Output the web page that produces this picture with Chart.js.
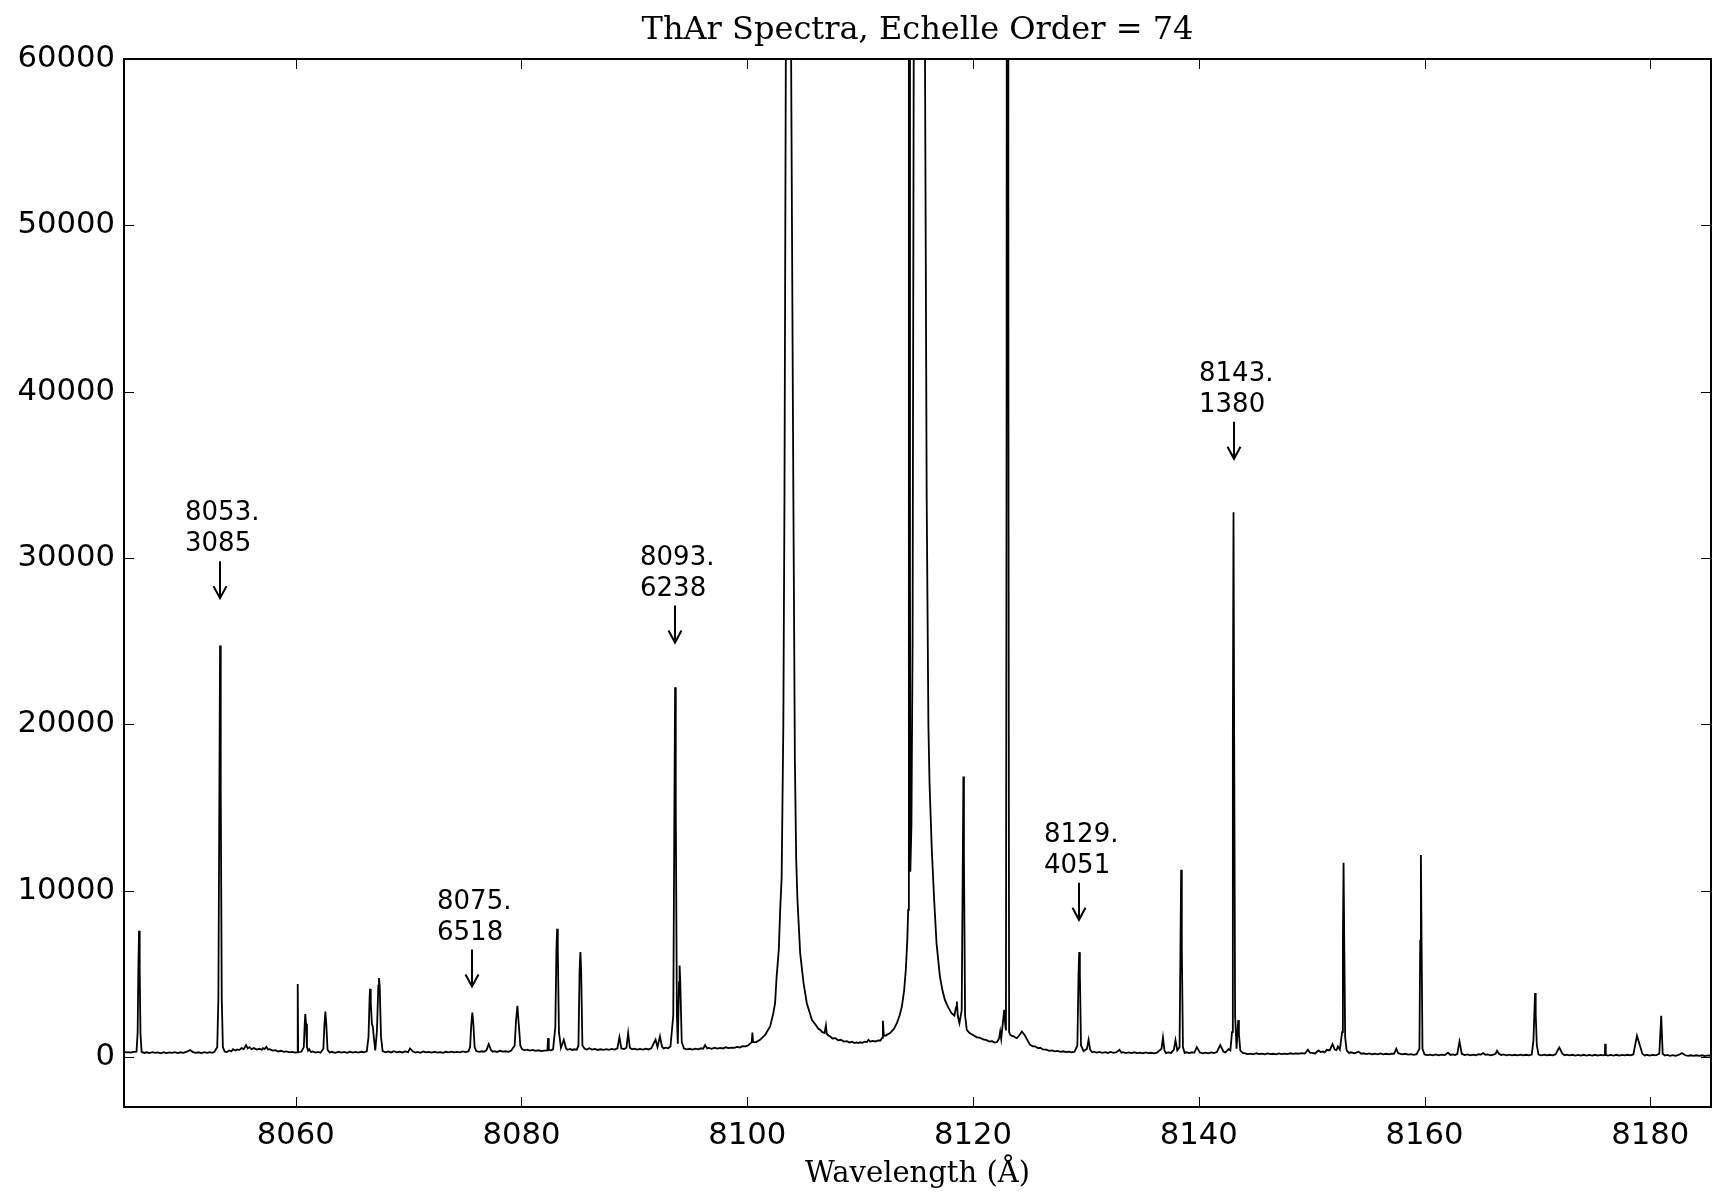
<!DOCTYPE html>
<html><head><meta charset="utf-8">
<script src="https://cdn.jsdelivr.net/npm/chart.js@4.4.0/dist/chart.umd.min.js"></script>
<style>html,body{margin:0;padding:0;background:#fff;} canvas{display:block;}</style>
</head><body>
<canvas id="c" width="1713" height="1196"></canvas>
<script>
const titleText = 'ThAr Spectra, Echelle Order = 74';
const xAxisLabel = 'Wavelength (Å)';
const xRange = [8044.79, 8185.38];
const yRange = [-3000, 60000];
const xTicks = [8060, 8080, 8100, 8120, 8140, 8160, 8180];
const yTicks = [0, 10000, 20000, 30000, 40000, 50000, 60000];

// spectrum: [wavelength (Å), counts]
const specBlue = [[8044.79,320],[8045.0,280],[8045.2,300],[8045.4,270],[8045.6,310],[8045.9,330],[8046.0,1500],[8046.06,5200],[8046.12,7600],[8046.18,5200],[8046.25,1400],[8046.35,320],[8046.6,250],[8046.8,290],[8047.05,240],[8047.3,300],[8047.55,250],[8047.8,280],[8048.05,230],[8048.3,290],[8048.55,240],[8048.8,280],[8049.05,250],[8049.3,300],[8049.55,240],[8049.8,290],[8050.05,260],[8050.3,310],[8050.64,420],[8050.9,300],[8051.15,250],[8051.4,290],[8051.65,240],[8051.9,300],[8052.15,260],[8052.4,300],[8052.6,260],[8052.8,320],[8053.05,600],[8053.15,3500],[8053.24,16000],[8053.3,24740],[8053.36,16000],[8053.45,3500],[8053.55,600],[8053.7,340],[8053.9,300],[8054.1,400],[8054.3,340],[8054.45,480],[8054.65,400],[8054.8,460],[8055.0,420],[8055.2,540],[8055.4,480],[8055.6,720],[8055.75,520],[8055.9,600],[8056.1,480],[8056.3,540],[8056.55,450],[8056.8,500],[8057.0,440],[8057.1,540],[8057.25,480],[8057.4,620],[8057.55,460],[8057.7,480],[8057.95,390],[8058.2,420],[8058.45,340],[8058.7,380],[8058.95,310],[8059.2,340],[8059.45,280],[8059.7,310],[8059.95,270],[8060.14,290],[8060.18,4400],[8060.22,300],[8060.5,320],[8060.72,600],[8060.8,2000],[8060.85,2580],[8060.92,2000],[8061.0,600],[8061.1,380],[8061.2,480],[8061.35,300],[8061.5,340],[8061.75,270],[8062.0,310],[8062.2,260],[8062.45,500],[8062.55,2000],[8062.63,2740],[8062.71,2000],[8062.82,450],[8063.0,280],[8063.2,320],[8063.5,260],[8063.8,330],[8064.05,270],[8064.3,310],[8064.55,260],[8064.8,330],[8065.05,270],[8065.3,310],[8065.55,270],[8065.8,320],[8066.05,280],[8066.3,340],[8066.45,1200],[8066.55,3600],[8066.59,4100],[8066.65,3300],[8066.75,2000],[8066.83,1840],[8066.92,1200],[8067.05,400],[8067.2,1600],[8067.32,4300],[8067.38,4750],[8067.44,4300],[8067.56,1200],[8067.7,360],[8067.95,290],[8068.2,340],[8068.45,280],[8068.7,350],[8068.95,290],[8069.2,330],[8069.45,280],[8069.7,340],[8069.95,300]];
const specMid = [[8070.13,520],[8070.4,330],[8070.6,270],[8070.8,310],[8071.05,260],[8071.3,340],[8071.55,280],[8071.8,310],[8072.05,270],[8072.3,330],[8072.55,270],[8072.8,300],[8073.05,260],[8073.3,320],[8073.55,280],[8073.8,330],[8074.05,280],[8074.3,310],[8074.55,290],[8074.8,340],[8075.05,300],[8075.3,340],[8075.45,600],[8075.55,1900],[8075.65,2680],[8075.75,1900],[8075.85,600],[8076.0,360],[8076.25,310],[8076.5,350],[8076.7,320],[8076.9,420],[8077.1,780],[8077.3,420],[8077.45,320],[8077.6,360],[8077.85,310],[8078.1,380],[8078.35,330],[8078.6,350],[8078.85,320],[8079.1,390],[8079.4,700],[8079.52,2200],[8079.64,3080],[8079.76,2000],[8079.9,700],[8080.05,480],[8080.25,410],[8080.5,450],[8080.75,390],[8081.0,430],[8081.25,380],[8081.5,410],[8081.75,360],[8082.0,390],[8082.3,400],[8082.36,1140],[8082.42,420],[8082.6,400],[8082.8,460],[8083.0,1800],[8083.1,6500],[8083.16,7710],[8083.22,6500],[8083.32,1500],[8083.5,560],[8083.75,1040],[8083.95,520],[8084.1,440],[8084.3,490],[8084.5,430],[8084.7,470],[8084.9,440],[8085.05,700],[8085.15,5200],[8085.22,6310],[8085.29,5200],[8085.4,700],[8085.6,500],[8085.8,450],[8086.0,530],[8086.25,450],[8086.5,490],[8086.75,430],[8087.0,470],[8087.25,430],[8087.5,480],[8087.75,440],[8088.0,490],[8088.25,450],[8088.5,520],[8088.68,1200],[8088.85,520],[8089.1,480],[8089.3,560],[8089.45,1440],[8089.6,560],[8089.8,470],[8090.0,510],[8090.25,450],[8090.5,490],[8090.75,450],[8091.0,510],[8091.25,460],[8091.5,530],[8091.88,1050],[8092.05,600],[8092.27,1250],[8092.45,620],[8092.6,520],[8092.8,570],[8093.0,530],[8093.2,640],[8093.45,2500],[8093.55,15000],[8093.61,22240],[8093.67,15000],[8093.77,2500],[8093.85,800],[8093.96,4500],[8094.01,5500],[8094.07,4500],[8094.2,900],[8094.4,520],[8094.65,470],[8094.9,500],[8095.15,450],[8095.4,510],[8095.65,470],[8095.9,530],[8096.1,500],[8096.27,720],[8096.45,520],[8096.6,550],[8096.85,500],[8097.1,570],[8097.35,510],[8097.6,550],[8097.85,520],[8098.1,590],[8098.35,540],[8098.6,570],[8098.85,560],[8099.1,610],[8099.35,580],[8099.6,650],[8099.85,640],[8100.1,710],[8100.4,900],[8100.46,1480],[8100.52,900]];
const specArgon = [[8100.8,900],[8101.14,1040],[8101.6,1350],[8102.03,1840],[8102.3,2600],[8102.47,3240],[8102.6,4800],[8102.68,5450],[8102.8,6500],[8102.92,8850],[8103.05,10800],[8103.2,20000],[8103.3,33500],[8103.42,60000],[8103.65,200000],[8103.89,60000],[8104.09,33500],[8104.22,18000],[8104.34,11850],[8104.45,9460],[8104.69,6250],[8104.99,4450],[8105.28,3240],[8105.73,2240],[8106.1,1900],[8106.3,1700],[8106.46,1640],[8106.65,1500],[8106.85,1450],[8106.97,1900],[8107.05,1400],[8107.2,1300],[8107.35,1240],[8107.55,1120],[8107.8,1140],[8108.05,1010],[8108.3,1040],[8108.55,930],[8108.83,960],[8109.05,880],[8109.3,920],[8109.5,850],[8109.7,880],[8109.85,840],[8110.0,890],[8110.2,860],[8110.4,920],[8110.6,900],[8110.74,1040],[8110.9,930],[8111.1,970],[8111.35,940],[8111.6,1010],[8111.8,1000],[8111.95,1150],[8112.02,2180],[8112.1,1300],[8112.25,1280],[8112.4,1350],[8112.66,1440],[8113.0,1700],[8113.26,2040],[8113.5,2500],[8113.7,3040],[8113.9,4000],[8114.05,5250],[8114.18,7000],[8114.26,8850],[8114.32,60000],[8114.37,120000],[8114.42,30000],[8114.45,11150],[8114.55,14000],[8114.65,25000],[8114.75,60000],[8115.3,400000],[8115.75,60000],[8115.9,33500],[8116.05,20000],[8116.15,16480],[8116.35,12500],[8116.56,9460],[8116.77,6850],[8117.07,4840],[8117.3,4000],[8117.51,3440],[8117.8,3000],[8118.1,2640],[8118.35,2500],[8118.5,3000],[8118.57,3340],[8118.65,2500],[8118.8,2040],[8119.0,2800],[8119.1,12000],[8119.15,16870],[8119.2,12000],[8119.3,2500],[8119.45,1640],[8119.7,1450],[8120.0,1330],[8120.3,1200],[8120.63,1160],[8120.9,1060],[8121.2,1020],[8121.45,940],[8121.7,960],[8121.9,870],[8122.12,900],[8122.3,1100],[8122.41,1540],[8122.5,1100],[8122.7,2400],[8122.77,2840],[8122.85,2000],[8122.92,1600],[8122.98,40000],[8123.06,250000],[8123.14,40000],[8123.2,1500],[8123.3,1340],[8123.45,1280],[8123.6,1250],[8123.75,1180],[8123.88,1140],[8124.1,1300],[8124.33,1540],[8124.6,1300],[8124.85,980]];
const specRed = [[8125.06,740],[8125.3,650],[8125.5,640],[8125.75,540],[8125.95,560],[8126.2,460],[8126.5,450],[8126.75,380],[8127.0,400],[8127.25,340],[8127.5,370],[8127.75,320],[8128.0,350],[8128.25,300],[8128.5,330],[8128.75,290],[8129.0,330],[8129.25,700],[8129.35,5000],[8129.41,6310],[8129.47,5000],[8129.57,700],[8129.8,360],[8130.1,500],[8130.24,1040],[8130.38,450],[8130.55,290],[8130.7,330],[8130.95,270],[8131.2,310],[8131.45,260],[8131.7,300],[8131.95,250],[8132.2,310],[8132.45,260],[8132.7,290],[8132.98,440],[8133.15,270],[8133.3,300],[8133.55,240],[8133.8,280],[8134.05,240],[8134.3,290],[8134.55,240],[8134.8,270],[8135.05,230],[8135.3,280],[8135.55,240],[8135.8,260],[8136.05,220],[8136.3,270],[8136.7,500],[8136.83,1180],[8136.96,400],[8137.1,240],[8137.3,280],[8137.55,250],[8137.8,450],[8137.94,1020],[8138.1,400],[8138.3,600],[8138.38,6500],[8138.44,11260],[8138.5,6500],[8138.6,600],[8138.75,260],[8138.9,290],[8139.15,240],[8139.4,290],[8139.6,260],[8139.83,600],[8140.1,280],[8140.35,230],[8140.6,270],[8140.85,230],[8141.1,280],[8141.35,240],[8141.6,300],[8141.9,720],[8142.2,320],[8142.35,280],[8142.5,380],[8142.64,480],[8142.8,400],[8142.95,1500],[8143.02,19000],[8143.08,32760],[8143.14,19000],[8143.22,2500],[8143.35,500],[8143.44,1600],[8143.5,2220],[8143.56,1400],[8143.68,400],[8143.9,250],[8144.1,220],[8144.35,180],[8144.56,210],[8144.8,170],[8145.1,230],[8145.35,180],[8145.6,210],[8145.85,170],[8146.1,220],[8146.35,180],[8146.6,200],[8146.85,170],[8147.1,220],[8147.35,180],[8147.6,210],[8147.85,180],[8148.1,230],[8148.35,190],[8148.6,220],[8148.85,200],[8149.1,240],[8149.4,210],[8149.67,440],[8149.85,260],[8150.0,250],[8150.3,220]];
const specFar = [[8150.61,400],[8150.8,300],[8151.0,340],[8151.15,290],[8151.35,440],[8151.6,400],[8151.85,780],[8152.05,450],[8152.2,420],[8152.33,640],[8152.5,450],[8152.7,1500],[8152.77,7000],[8152.83,11690],[8152.89,7000],[8152.97,1200],[8153.1,400],[8153.3,250],[8153.5,290],[8153.8,230],[8154.16,320],[8154.4,200],[8154.6,230],[8154.85,180],[8155.1,220],[8155.35,170],[8155.6,210],[8155.85,170],[8156.1,220],[8156.35,170],[8156.6,200],[8156.85,160],[8157.1,210],[8157.3,200],[8157.5,500],[8157.65,240],[8157.8,210],[8158.05,160],[8158.3,200],[8158.55,150],[8158.8,180],[8159.05,140],[8159.3,180],[8159.55,500],[8159.62,7000],[8159.68,12150],[8159.74,7000],[8159.82,500],[8160.0,160],[8160.25,120],[8160.5,150],[8160.75,110],[8161.0,160],[8161.25,110],[8161.5,150],[8161.8,120],[8162.08,260],[8162.3,130],[8162.5,160],[8162.7,120],[8162.9,180],[8163.1,940],[8163.3,200],[8163.55,120],[8163.8,160],[8164.05,110],[8164.3,150],[8164.55,110],[8164.8,170],[8165.0,150],[8165.18,240],[8165.4,140],[8165.6,160],[8165.85,110],[8166.1,150],[8166.3,200],[8166.42,380],[8166.6,200],[8166.8,120],[8167.0,160],[8167.25,110],[8167.5,150],[8167.75,100],[8168.0,140],[8168.25,100],[8168.5,150],[8168.75,100],[8169.0,140],[8169.25,110],[8169.5,150],[8169.65,1000],[8169.73,2600],[8169.79,3850],[8169.85,2600],[8169.95,700],[8170.1,150],[8170.35,110],[8170.6,150],[8170.85,100],[8171.1,140],[8171.35,110],[8171.6,160],[8171.94,580],[8172.2,220],[8172.4,110],[8172.6,150],[8172.85,100],[8173.1,140],[8173.35,90],[8173.6,130],[8173.85,90],[8174.1,140],[8174.35,90],[8174.6,130],[8174.85,90],[8175.1,140],[8175.35,90],[8175.6,130],[8175.8,100],[8175.98,130],[8176.0,800],[8176.06,130],[8176.25,90],[8176.5,130],[8176.75,90],[8177.0,140],[8177.25,90],[8177.5,130],[8177.75,100],[8178.0,140],[8178.25,110],[8178.5,160],[8178.82,1280],[8179.11,640],[8179.3,200],[8179.5,100],[8179.7,140],[8179.95,90],[8180.2,130],[8180.5,100],[8180.8,200],[8180.97,2480],[8181.1,200],[8181.3,90],[8181.5,130],[8181.75,80],[8182.0,120],[8182.25,80],[8182.5,130],[8182.8,240],[8183.1,110],[8183.35,70],[8183.6,110],[8183.85,70],[8184.1,110],[8184.35,70],[8184.6,110],[8184.85,60],[8185.1,100],[8185.38,90]];

// annotated lines
const lineLabels = ['8053.3085', '8075.6518', '8093.6238', '8129.4051', '8143.1380'];
const lineWavelengths = [8053.3085, 8075.6518, 8093.6238, 8129.4051, 8143.1380];
const arrowTipFlux = [27590, 4243, 24919, 8252, 35966];

const spectrum = [].concat(specBlue, specMid, specArgon, specRed, specFar).map(p => ({x: p[0], y: p[1]}));

const framePlugin = {
  id: 'frame',
  afterDatasetsDraw(chart) {
    const {ctx, chartArea: a, scales: {x, y}} = chart;
    ctx.save();
    ctx.strokeStyle = '#000';
    ctx.lineWidth = 1;
    ctx.beginPath();
    xTicks.forEach(v => {
      const px = Math.round(x.getPixelForValue(v)) + 0.5;
      ctx.moveTo(px, a.bottom); ctx.lineTo(px, a.bottom - 10);
      ctx.moveTo(px, a.top); ctx.lineTo(px, a.top + 10);
    });
    yTicks.forEach(v => {
      const py = Math.round(y.getPixelForValue(v)) + 0.5;
      ctx.moveTo(a.left, py); ctx.lineTo(a.left + 10, py);
      ctx.moveTo(a.right, py); ctx.lineTo(a.right - 10, py);
    });
    ctx.stroke();
    ctx.lineWidth = 2;
    ctx.strokeRect(a.left, a.top, a.right - a.left, a.bottom - a.top);
    ctx.restore();
  }
};

const annotPlugin = {
  id: 'annot',
  afterDatasetsDraw(chart) {
    const {ctx, scales: {x, y}} = chart;
    ctx.save();
    ctx.fillStyle = '#000';
    ctx.strokeStyle = '#000';
    ctx.lineWidth = 2;
    ctx.font = '26px "DejaVu Sans"';
    ctx.textAlign = 'left';
    ctx.textBaseline = 'alphabetic';
    lineLabels.forEach((lab, i) => {
      const px = Math.round(x.getPixelForValue(lineWavelengths[i]));
      const py = y.getPixelForValue(arrowTipFlux[i]);
      const dot = lab.indexOf('.');
      ctx.fillText(lab.slice(0, dot + 1), px - 35, py - 78);
      ctx.fillText(lab.slice(dot + 1), px - 35, py - 47);
      ctx.beginPath();
      ctx.moveTo(px, py - 37); ctx.lineTo(px, py - 1);
      ctx.stroke();
      ctx.beginPath();
      ctx.moveTo(px - 6.5, py - 12); ctx.lineTo(px, py); ctx.lineTo(px + 6.5, py - 12);
      ctx.stroke();
    });
    ctx.restore();
  }
};

new Chart(document.getElementById('c'), {
  type: 'line',
  data: {datasets: [{data: spectrum, borderColor: '#000', borderWidth: 1.8, pointRadius: 0, tension: 0, fill: false}]},
  options: {
    responsive: false,
    animation: false,
    devicePixelRatio: 1,
    layout: {padding: {left: 0, right: 2, top: 0, bottom: 0}},
    plugins: {
      legend: {display: false},
      tooltip: {enabled: false},
      title: {
        display: true, text: titleText, fullSize: false, color: '#000',
        font: {family: 'DejaVu Serif', size: 32, weight: 'normal', lineHeight: 1.2},
        padding: {top: 11.1, bottom: 9.5}
      }
    },
    scales: {
      x: {
        type: 'linear', min: xRange[0], max: xRange[1],
        afterBuildTicks: s => { s.ticks = xTicks.map(v => ({value: v})); },
        afterFit: s => { s.height = 89; },
        grid: {display: false, drawTicks: false},
        border: {display: false},
        ticks: {font: {family: 'DejaVu Sans', size: 30.7}, color: '#000', padding: 11, maxRotation: 0, autoSkip: false,
          callback: (v, i) => String(xTicks[i])},
        title: {display: true, text: xAxisLabel, color: '#000',
          font: {family: 'DejaVu Serif', size: 29, weight: 'normal', lineHeight: 1.2},
          padding: {top: 0, bottom: 4.6}}
      },
      y: {
        type: 'linear', min: yRange[0], max: yRange[1],
        afterBuildTicks: s => { s.ticks = yTicks.map(v => ({value: v})); },
        afterFit: s => { s.width = 124; },
        grid: {display: false, drawTicks: false},
        border: {display: false},
        ticks: {font: {family: 'DejaVu Sans', size: 30.7}, color: '#000', padding: 9,
          callback: (v, i) => String(yTicks[i])}
      }
    }
  },
  plugins: [framePlugin, annotPlugin]
});
</script>
</body></html>
